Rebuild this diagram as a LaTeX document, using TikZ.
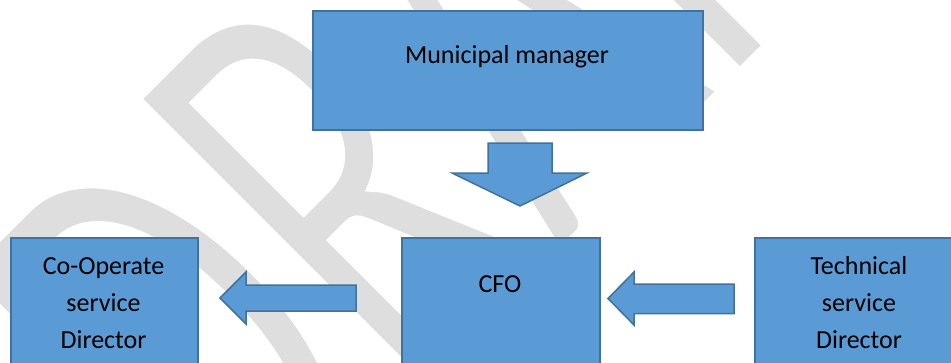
\documentclass[tikz,border=0pt]{standalone}
\usepackage{fontspec}
\setmainfont{Carlito}
\definecolor{boxfill}{HTML}{5B9BD5}
\definecolor{boxline}{HTML}{41719C}
\definecolor{wm}{HTML}{DEDEDE}
\newcommand{\thinon}{\special{pdf:literal direct 2 Tr 1 1 1 RG 6 w}}
\newcommand{\thinoff}{\special{pdf:literal direct 0 Tr}}
\begin{document}
\begin{tikzpicture}[x=1pt,y=-1pt,
  box/.style={draw=boxline, fill=boxfill, line width=1.5pt, inner sep=0pt, anchor=north west},
  blockarrow/.style={draw=boxline, fill=boxfill, line width=1.5pt, line join=miter},
  lbl/.style={anchor=base, inner sep=0pt, font=\fontsize{26}{37}\selectfont}]
\useasboundingbox (0,0) rectangle (951,362);
\clip (0,0) rectangle (951,362);
% watermark
\node[anchor=base west, inner sep=0pt, rotate=45, text=wm] (wmk) at (233.2,579.8)
  {\scalebox{1}[1.6]{\fontsize{398}{400}\selectfont\thinon DRAFT\thinoff}};
% boxes
\node[box, minimum width=390pt, minimum height=119pt] (mm) at (312,10) {};
\node[box, minimum width=187pt, minimum height=140pt] (co) at (10,237) {};
\node[box, minimum width=198pt, minimum height=140pt] (cfo) at (401,237) {};
\node[box, minimum width=211pt, minimum height=140pt] (te) at (754,237) {};
% texts
\node[lbl] (mmt) at (507,63) {Municipal manager};
\node[lbl] (co1) at (103.5,274) {Co-Operate};
\node[lbl] (co2) at (103.5,311) {service};
\node[lbl] (co3) at (103.5,348) {Director};
\node[lbl] (cfot) at (500,292) {CFO};
\node[lbl] (te1) at (859,274) {Technical};
\node[lbl] (te2) at (859,311) {service};
\node[lbl] (te3) at (859,348) {Director};
% block arrows
\draw[blockarrow] (488,143) -- (552,143) -- (552,173) -- (587,173) -- (520,206)
  -- (452,173) -- (488,173) -- cycle;
\draw[blockarrow] (356,285) -- (246,285) -- (246,272) -- (220,298) -- (246,324)
  -- (246,311) -- (356,311) -- cycle;
\draw[blockarrow] (734,284) -- (634,284) -- (634,272) -- (608,298.5) -- (634,325)
  -- (634,313.5) -- (734,313.5) -- cycle;
\end{tikzpicture}
\end{document}
